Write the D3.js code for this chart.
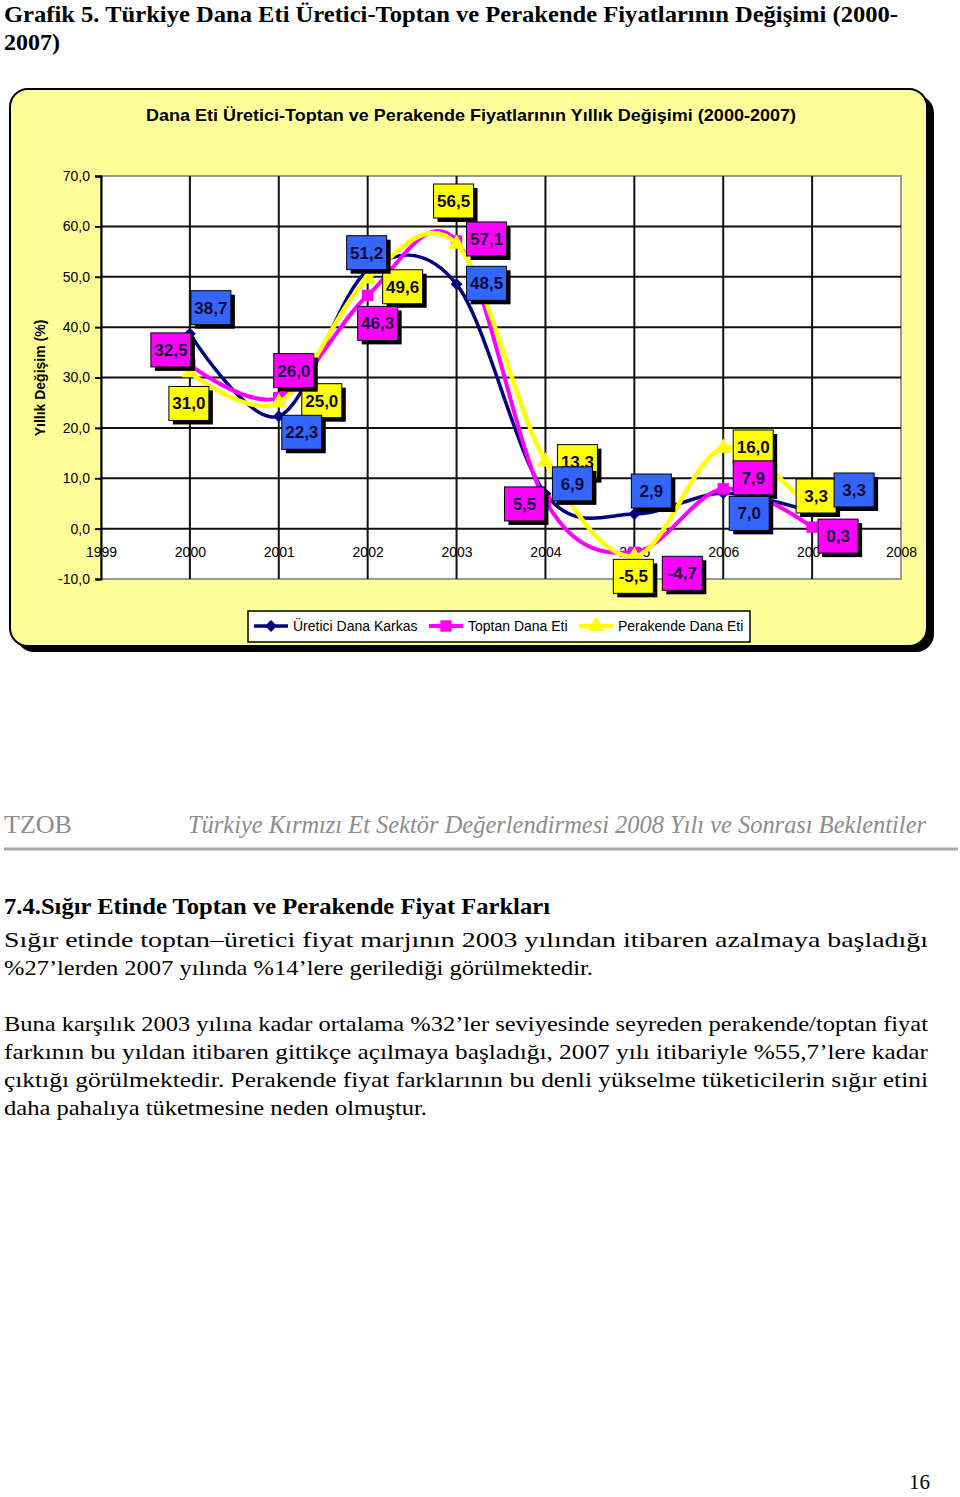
<!DOCTYPE html>
<html>
<head>
<meta charset="utf-8">
<script src="https://cdn.jsdelivr.net/npm/d3@7"></script>
<style>
    body { margin: 0; background: #fff; }
    svg { display: block; }
</style>
</head>
<body>
<svg id="page" width="960" height="1497"></svg>
<script>
// chart data
var years = [2000, 2001, 2002, 2003, 2004, 2005, 2006, 2007];
var xTickYears = [1999, 2000, 2001, 2002, 2003, 2004, 2005, 2006, 2007, 2008];
var yTickValues = [-10, 0, 10, 20, 30, 40, 50, 60, 70];
var seriesNames = ["Üretici Dana Karkas", "Toptan Dana Eti", "Perakende Dana Eti"];
var ureticiValues = [38.7, 22.3, 51.2, 48.5, 6.9, 2.9, 7.0, 3.3];
var toptanValues = [32.5, 26.0, 46.3, 57.1, 5.5, -4.7, 7.9, 0.3];
var perakendeValues = [31.0, 25.0, 49.6, 56.5, 13.3, -5.5, 16.0, 3.3];

// page texts
var pageTitle = ["Grafik 5. Türkiye Dana Eti Üretici-Toptan ve Perakende Fiyatlarının Değişimi (2000-", "2007)"];
var chartTitle = "Dana Eti Üretici-Toptan ve Perakende Fiyatlarının Yıllık Değişimi (2000-2007)";
var yAxisTitle = "Yıllık Değişim (%)";
var heading = "7.4.Sığır Etinde Toptan ve Perakende Fiyat Farkları";
var bodyLines = [
    "Sığır etinde toptan–üretici fiyat marjının 2003 yılından itibaren azalmaya başladığı",
    "%27’lerden 2007 yılında %14’lere gerilediği görülmektedir.",
    "Buna karşılık 2003 yılına kadar ortalama %32’ler seviyesinde seyreden perakende/toptan fiyat",
    "farkının bu yıldan itibaren gittikçe açılmaya başladığı, 2007 yılı itibariyle %55,7’lere kadar",
    "çıktığı görülmektedir. Perakende fiyat farklarının bu denli yükselme tüketicilerin sığır etini",
    "daha pahalıya tüketmesine neden olmuştur."
];

// layout: label box offsets from their point (px), per series
var labelOffsets = [
    [[21, -26], [23, 16], [-1, -18], [30, -1], [27, -10], [17, -23], [26, 20], [42, -22]],
    [[-19, -15], [15, -27], [10, 28], [30, -2], [-21, 3], [48, 21], [30, -11], [26, 9]],
    [[-1, 31], [43, -2], [35, 8], [-3, -43], [32, 0], [-1, 20], [30, -1], [4, -16]]
];
var lineColors = ["#000080", "#ff00ff", "#ffff00"];
var boxColors = ["#3366ff", "#ff00ff", "#ffff00"];
var lineWidths = [3.5, 4, 4.5];

var sansFont = "'Liberation Sans', Arial, sans-serif";
var serifFont = "'Liberation Serif', 'Times New Roman', serif";

var svg = d3.select("#page");

var fmt = d3.formatLocale({decimal: ",", thousands: ".", grouping: [3], currency: ["", ""], minus: "-"}).format(".1f");

// ---- page title
svg.selectAll("text.ptitle")
    .data(pageTitle)
    .enter().append("text")
    .attr("class", "ptitle")
    .attr("x", 4)
    .attr("y", function(d, i) { return i === 0 ? 22 : 50; })
    .attr("textLength", function(d, i) { return i === 0 ? 894 : 56; })
    .attr("lengthAdjust", "spacingAndGlyphs")
    .style("font-family", serifFont)
    .style("font-weight", "bold")
    .style("font-size", "23px")
    .text(function(d) { return d; });

// ---- chart frame
svg.append("rect")
    .attr("x", 16).attr("y", 95).attr("width", 918).attr("height", 557)
    .attr("rx", 18).attr("fill", "#000");
svg.append("rect")
    .attr("x", 10).attr("y", 89).attr("width", 917).attr("height", 557)
    .attr("rx", 18).attr("fill", "#ffff99")
    .attr("stroke", "#000").attr("stroke-width", 2);

svg.append("text")
    .attr("x", 146).attr("y", 121)
    .attr("textLength", 650)
    .attr("lengthAdjust", "spacingAndGlyphs")
    .style("font-family", sansFont)
    .style("font-weight", "bold")
    .style("font-size", "17px")
    .text(chartTitle);

// ---- scales
var x = d3.scaleLinear().domain([1999, 2008]).range([101, 901]);
var y = d3.scaleLinear().domain([-10, 70]).range([579, 176]);

var plot = svg.append("g");

plot.append("rect")
    .attr("x", x(1999)).attr("y", y(70))
    .attr("width", x(2008) - x(1999)).attr("height", y(-10) - y(70))
    .attr("fill", "#fff")
    .attr("stroke", "#999").attr("stroke-width", 2);

// grid
plot.selectAll("line.hgrid")
    .data(yTickValues.filter(function(v) { return v > -10 && v < 70; }))
    .enter().append("line")
    .attr("class", "hgrid")
    .attr("x1", x(1999)).attr("x2", x(2008))
    .attr("y1", function(d) { return y(d); })
    .attr("y2", function(d) { return y(d); })
    .attr("stroke", "#111").attr("stroke-width", 2);

plot.selectAll("line.vgrid")
    .data(xTickYears.filter(function(v) { return v > 1999 && v < 2008; }))
    .enter().append("line")
    .attr("class", "vgrid")
    .attr("y1", y(70)).attr("y2", y(-10))
    .attr("x1", function(d) { return x(d); })
    .attr("x2", function(d) { return x(d); })
    .attr("stroke", "#111").attr("stroke-width", 2);

// y axis
var yAxis = d3.axisLeft(y)
    .tickValues(yTickValues)
    .tickFormat(fmt)
    .tickSize(6)
    .tickPadding(5);

var yg = plot.append("g")
    .attr("transform", "translate(" + x(1999) + ",0)")
    .call(yAxis);
yg.select(".domain").attr("stroke", "#000").attr("stroke-width", 2);
yg.selectAll(".tick line").attr("stroke", "#000").attr("stroke-width", 2);
yg.selectAll("text")
    .style("font-family", sansFont)
    .style("font-size", "14px")
    .attr("fill", "#000");

// x axis labels, sitting on the 0 line
var xAxis = d3.axisBottom(x)
    .tickValues(xTickYears)
    .tickFormat(d3.format("d"))
    .tickSize(0)
    .tickPadding(18);

var xg = plot.append("g")
    .attr("transform", "translate(0," + y(0) + ")")
    .call(xAxis);
xg.select(".domain").remove();
xg.selectAll("text")
    .style("font-family", sansFont)
    .style("font-size", "14px")
    .attr("fill", "#000");

svg.append("text")
    .attr("transform", "translate(45,378) rotate(-90)")
    .attr("text-anchor", "middle")
    .style("font-family", sansFont)
    .style("font-weight", "bold")
    .style("font-size", "14px")
    .text(yAxisTitle);

// ---- series
var allSeries = [ureticiValues, toptanValues, perakendeValues];

var line = d3.line()
    .x(function(d, i) { return x(years[i]); })
    .y(function(d) { return y(d); })
    .curve(d3.curveCatmullRom.alpha(0));

var diamond = d3.symbol().type(d3.symbolDiamond2).size(90);
var square = d3.symbol().type(d3.symbolSquare).size(130);
var triangle = d3.symbol().type(d3.symbolTriangle).size(120);
var markers = [diamond, square, triangle];

allSeries.forEach(function(vals, s) {
    plot.append("path")
        .datum(vals)
        .attr("d", line)
        .attr("fill", "none")
        .attr("stroke", lineColors[s])
        .attr("stroke-width", lineWidths[s]);

    plot.selectAll("path.m" + s)
        .data(vals)
        .enter().append("path")
        .attr("class", "m" + s)
        .attr("transform", function(d, i) { return "translate(" + x(years[i]) + "," + y(d) + ")"; })
        .attr("d", markers[s])
        .attr("fill", lineColors[s]);
});

// ---- data labels (yellow first, then magenta, blue on top)
var boxW = 40, boxH = 34;
[2, 1, 0].forEach(function(s) {
    var g = plot.selectAll("g.lab" + s)
        .data(allSeries[s])
        .enter().append("g")
        .attr("class", "lab" + s)
        .attr("transform", function(d, i) {
            var o = labelOffsets[s][i];
            return "translate(" + (x(years[i]) + o[0]) + "," + (y(d) + o[1]) + ")";
        });

    g.append("rect")
        .attr("x", -boxW / 2 + 4).attr("y", -boxH / 2 + 4)
        .attr("width", boxW).attr("height", boxH)
        .attr("fill", "#000");
    g.append("rect")
        .attr("x", -boxW / 2).attr("y", -boxH / 2)
        .attr("width", boxW).attr("height", boxH)
        .attr("fill", boxColors[s])
        .attr("stroke", "#000").attr("stroke-width", 1);
    g.append("text")
        .attr("text-anchor", "middle")
        .attr("y", 6)
        .style("font-family", sansFont)
        .style("font-weight", "bold")
        .style("font-size", "17px")
        .attr("fill", "#0a0a30")
        .text(function(d) { return fmt(d); });
});

// ---- legend
var legend = svg.append("g").attr("transform", "translate(248,611)");
legend.append("rect")
    .attr("width", 502).attr("height", 31)
    .attr("fill", "#fff").attr("stroke", "#000").attr("stroke-width", 1.5);

var legendX = [6, 181, 331];
seriesNames.forEach(function(name, s) {
    var item = legend.append("g").attr("transform", "translate(" + legendX[s] + ",15)");
    item.append("line")
        .attr("x1", 0).attr("x2", 34)
        .attr("stroke", lineColors[s]).attr("stroke-width", lineWidths[s]);
    item.append("path")
        .attr("transform", "translate(17,0)")
        .attr("d", markers[s])
        .attr("fill", lineColors[s]);
    item.append("text")
        .attr("x", 39).attr("y", 5)
        .style("font-family", sansFont)
        .style("font-size", "14px")
        .text(name);
});

// ---- footer
svg.append("text")
    .attr("x", 4).attr("y", 833)
    .attr("textLength", 68)
    .attr("lengthAdjust", "spacingAndGlyphs")
    .style("font-family", serifFont)
    .style("font-size", "26px")
    .attr("fill", "#8c8c8c")
    .text("TZOB");
svg.append("text")
    .attr("x", 926).attr("y", 833)
    .attr("text-anchor", "end")
    .attr("textLength", 738)
    .attr("lengthAdjust", "spacingAndGlyphs")
    .style("font-family", serifFont)
    .style("font-style", "italic")
    .style("font-size", "25px")
    .attr("fill", "#8c8c8c")
    .text("Türkiye Kırmızı Et Sektör Değerlendirmesi 2008 Yılı ve Sonrası Beklentiler");
svg.append("line")
    .attr("x1", 4).attr("x2", 958).attr("y1", 849).attr("y2", 849)
    .attr("stroke", "#a8a8a8").attr("stroke-width", 3);

// ---- body text
svg.append("text")
    .attr("x", 4).attr("y", 914)
    .attr("textLength", 546)
    .attr("lengthAdjust", "spacingAndGlyphs")
    .style("font-family", serifFont)
    .style("font-weight", "bold")
    .style("font-size", "23px")
    .text(heading);

var lineY = [947, 975, 1031, 1059, 1087, 1115];
var lineW = [924, 589, 924, 924, 924, 423];
svg.selectAll("text.body")
    .data(bodyLines)
    .enter().append("text")
    .attr("class", "body")
    .attr("x", 4)
    .attr("y", function(d, i) { return lineY[i]; })
    .attr("textLength", function(d, i) { return lineW[i]; })
    .attr("lengthAdjust", "spacingAndGlyphs")
    .style("font-family", serifFont)
    .style("font-size", "22px")
    .text(function(d) { return d; });

// page number
svg.append("text")
    .attr("x", 930).attr("y", 1489)
    .attr("text-anchor", "end")
    .style("font-family", serifFont)
    .style("font-size", "21px")
    .text("16");
</script>
</body>
</html>
